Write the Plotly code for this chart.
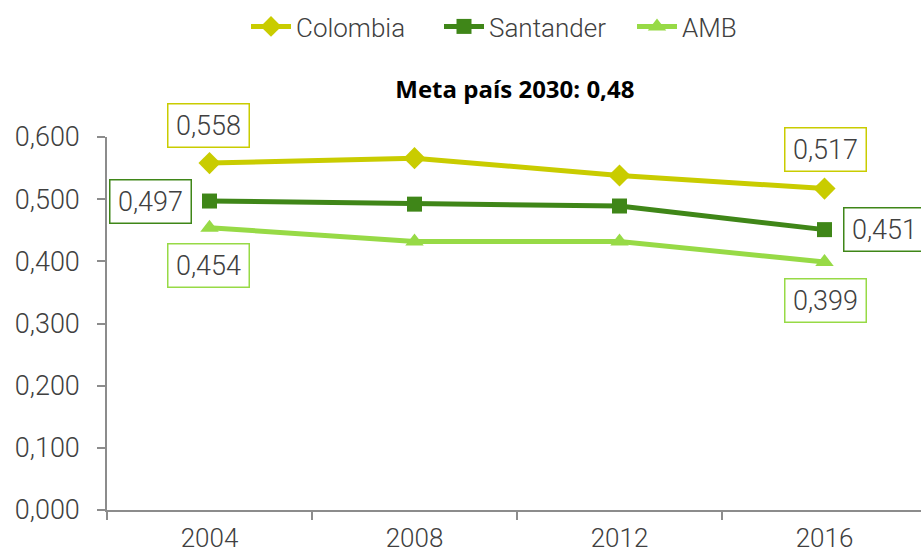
import plotly.graph_objects as go

# Datos del índice por año
years = ["2004", "2008", "2012", "2016"]
colombia = [0.558, 0.566, 0.538, 0.517]
santander = [0.497, 0.492, 0.489, 0.451]
amb = [0.454, 0.432, 0.432, 0.399]

y_ticks = [0.0, 0.1, 0.2, 0.3, 0.4, 0.5, 0.6]

C_COL = "#C9CC00"
C_SAN = "#3F8618"
C_AMB = "#97DA46"
TXT = "#404040"
AXIS = "#8C8C8C"
FONT = "Roboto, sans-serif"
FSIZE = 27
FW = 300

xpos = list(range(len(years)))

fig = go.Figure()
series = [
    ("Colombia", colombia, C_COL, "diamond", 17),
    ("Santander", santander, C_SAN, "square", 15),
    ("AMB", amb, C_AMB, "triangle-up", 16),
]
for name, vals, col, sym, sz in series:
    fig.add_trace(go.Scatter(
        x=xpos, y=vals, name=name, mode="lines+markers",
        line=dict(color=col, width=5),
        marker=dict(symbol=sym, size=sz, color=col),
        cliponaxis=False,
    ))

# Etiquetas de valor con recuadro
def label(i, vals, col, dx, dy):
    fig.add_annotation(
        x=xpos[i], y=vals[i], xref="x", yref="y",
        text=f"{vals[i]:.3f}".replace(".", ","),
        showarrow=False, xshift=dx, yshift=dy,
        width=74, height=36, align="center", valign="middle",
        font=dict(family=FONT, size=FSIZE, color=TXT, weight=FW),
        bordercolor=col, borderwidth=1.5, borderpad=3, bgcolor="white",
    )

label(0, colombia, C_COL, -1, 38)
label(3, colombia, C_COL, 1, 39)
label(0, santander, C_SAN, -59, 0)
label(3, santander, C_SAN, 60, 0)
label(0, amb, C_AMB, -1, -38)
label(3, amb, C_AMB, 1, -39)

fig.update_layout(
    width=921, height=554,
    margin=dict(l=107, r=0, t=137, b=44, autoexpand=False),
    paper_bgcolor="white", plot_bgcolor="white",
    separators=",.",
    font=dict(family=FONT, size=FSIZE, color=TXT, weight=FW),
    title=dict(
        text="<b>Meta país 2030: 0,48</b>",
        x=0.559, xanchor="center", xref="container",
        y=1 - 90 / 554, yanchor="middle", yref="container",
        font=dict(family="Open Sans, sans-serif", size=24, color="#000000"),
    ),
    legend=dict(
        orientation="h", x=(246 - 107) / 814, xanchor="left", xref="paper",
        y=1 - 3 / 554, yanchor="top", yref="container",
        font=dict(family=FONT, size=26, color=TXT, weight=FW),
        entrywidth=138, entrywidthmode="pixels",
        itemwidth=40, tracegroupgap=0,
    ),
    showlegend=True,
)

fig.update_xaxes(
    range=[-0.5, -0.5 + (921 - 107) / 205],
    tickvals=xpos, ticktext=years, ticks="",
    showline=True, linecolor=AXIS, linewidth=1.5,
    showgrid=False, zeroline=False, automargin=False,
    minor=dict(tickvals=[-0.5, 0.5, 1.5, 2.5], ticks="outside",
               ticklen=8, tickcolor=AXIS, tickwidth=1.5, showgrid=False),
    tickfont=dict(family=FONT, size=26, color=TXT, weight=FW),
    ticklabelstandoff=4,
)
fig.update_yaxes(
    range=[0, 0.6], tickvals=y_ticks, tickformat=".3f",
    ticks="outside", ticklen=8, tickcolor=AXIS, tickwidth=1.5,
    showline=True, linecolor=AXIS, linewidth=1.5,
    showgrid=False, zeroline=False, automargin=False,
    tickfont=dict(family=FONT, size=FSIZE, color=TXT, weight=FW),
    ticklabelstandoff=12,
)

fig.write_html("out.html")
